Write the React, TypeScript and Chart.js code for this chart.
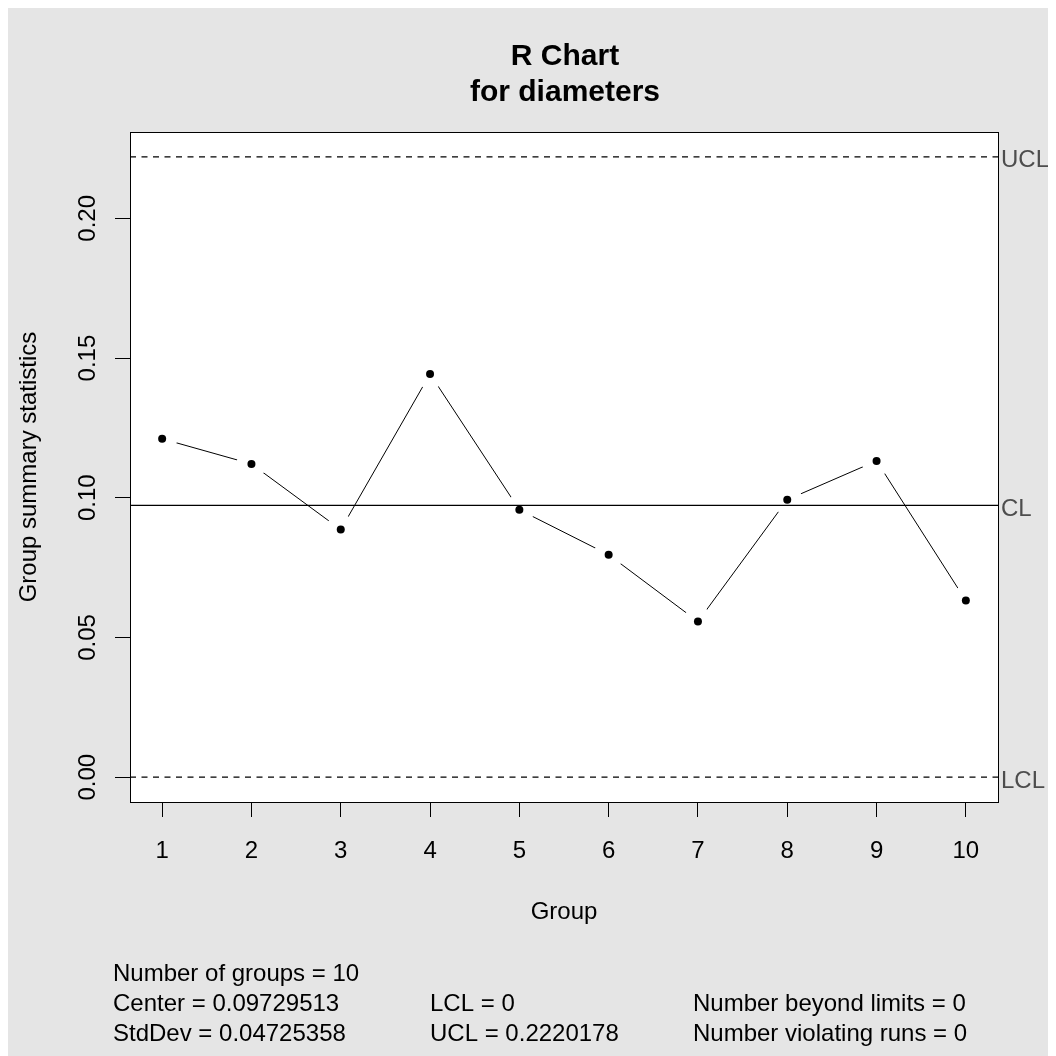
import { useEffect, useRef } from "react";
import { Chart, registerables } from "chart.js";

Chart.register(...registerables);

// ---- data ----
const groups = [1, 2, 3, 4, 5, 6, 7, 8, 9, 10];
const ranges = [0.1211, 0.1121, 0.0886, 0.1443, 0.0957, 0.0796, 0.0557, 0.0993, 0.1132, 0.0632];
const centerValue = 0.09729513;
const lclValue = 0;
const uclValue = 0.2220178;
const stdDevValue = 0.04725358;
const yTickValues = [0, 0.05, 0.1, 0.15, 0.2];
const xTickValues = [1, 2, 3, 4, 5, 6, 7, 8, 9, 10];
const titleLines = ["R Chart", "for diameters"];
const limitLabels = ["UCL", "CL", "LCL"];
const xAxisTitle = "Group";
const yAxisTitle = "Group summary statistics";
const beyondLimits = 0;
const violatingRuns = 0;

const FONT = '"Liberation Sans", Arial, Helvetica, sans-serif';

export default function App() {
  const ref = useRef<HTMLCanvasElement | null>(null);

  useEffect(() => {
    document.documentElement.style.overflow = "hidden";
    const canvas = ref.current;
    if (!canvas) return;

    const xSpan = groups[groups.length - 1] - groups[0];
    const xMin = groups[0] - 0.04 * xSpan;
    const xMax = groups[groups.length - 1] + 0.04 * xSpan;
    const yLo = Math.min(lclValue, ...ranges);
    const yHi = Math.max(uclValue, ...ranges);
    const yMin = yLo - 0.04 * (yHi - yLo);
    const yMax = yHi + 0.04 * (yHi - yLo);

    const points = groups.map((g, i) => ({ x: g, y: ranges[i] }));
    const hline = (v: number) => [
      { x: xMin, y: v },
      { x: xMax, y: v },
    ];

    const decor = {
      id: "decor",
      beforeDraw(chart: any) {
        const { ctx, chartArea: a } = chart;
        ctx.save();
        ctx.fillStyle = "#e5e5e5";
        ctx.fillRect(0, 0, chart.width, chart.height);
        ctx.fillStyle = "#ffffff";
        ctx.fillRect(a.left, a.top, a.right - a.left, a.bottom - a.top);
        ctx.restore();
      },
      afterDraw(chart: any) {
        const { ctx, chartArea: a } = chart;
        const ys = chart.scales.y;
        ctx.save();
        // box
        ctx.strokeStyle = "#000";
        ctx.lineWidth = 1;
        ctx.strokeRect(a.left + 0.5, a.top + 0.5, a.right - a.left, a.bottom - a.top);
        // title
        const cx = (a.left + a.right) / 2;
        ctx.fillStyle = "#000";
        ctx.textAlign = "center";
        ctx.textBaseline = "alphabetic";
        ctx.font = `bold 30px ${FONT}`;
        ctx.fillText(titleLines[0], cx + 1, 57);
        ctx.fillText(titleLines[1], cx + 1, 93);
        // axis titles
        ctx.font = `24px ${FONT}`;
        ctx.fillText(xAxisTitle, cx, 911);
        ctx.save();
        ctx.translate(28, (a.top + a.bottom) / 2);
        ctx.rotate(-Math.PI / 2);
        ctx.fillText(yAxisTitle, 0, 0);
        ctx.restore();
        // limit labels
        ctx.fillStyle = "#4d4d4d";
        ctx.textAlign = "left";
        ctx.textBaseline = "alphabetic";
        const limVals = [uclValue, centerValue, lclValue];
        limitLabels.forEach((l, i) => {
          ctx.fillText(l, a.right + 3, ys.getPixelForValue(limVals[i]) + 10.5);
        });
        // stats
        ctx.fillStyle = "#000";
        ctx.fillText(`Number of groups = ${groups.length}`, 105, 973);
        ctx.fillText(`Center = ${centerValue}`, 105, 1003);
        ctx.fillText(`StdDev = ${stdDevValue}`, 105, 1033);
        ctx.fillText(`LCL = ${lclValue}`, 422, 1003);
        ctx.fillText(`UCL = ${uclValue}`, 422, 1033);
        ctx.fillText(`Number beyond limits = ${beyondLimits}`, 685, 1003);
        ctx.fillText(`Number violating runs = ${violatingRuns}`, 685, 1033);
        ctx.restore();
      },
    };

    const chart = new Chart(canvas, {
      type: "line",
      data: {
        datasets: [
          {
            // black dots on top
            data: points,
            showLine: false,
            pointRadius: 4,
            pointBackgroundColor: "#000",
            pointBorderWidth: 0,
            order: 1,
          } as any,
          {
            data: hline(centerValue),
            borderColor: "#000",
            borderWidth: 1.2,
            pointRadius: 0,
            order: 2,
          },
          {
            data: hline(uclValue),
            borderColor: "#000",
            borderWidth: 1.2,
            borderDash: [6, 5.5],
            pointRadius: 0,
            order: 2,
          },
          {
            data: hline(lclValue),
            borderColor: "#000",
            borderWidth: 1.2,
            borderDash: [6, 5.5],
            pointRadius: 0,
            order: 2,
          },
          {
            // connecting line, with gaps around points (white masks)
            data: points,
            borderColor: "#000",
            borderWidth: 1,
            pointRadius: 15,
            pointBackgroundColor: "#ffffff",
            pointBorderWidth: 0,
            order: 3,
          },
        ],
      },
      options: {
        responsive: false,
        animation: false,
        events: [],
        layout: { padding: { left: 0, top: 124, right: 58, bottom: 154 } },
        plugins: { legend: { display: false }, tooltip: { enabled: false }, title: { display: false } },
        scales: {
          x: {
            type: "linear",
            position: "bottom",
            min: xMin,
            max: xMax,
            afterBuildTicks: (s: any) => {
              s.ticks = xTickValues.map((v) => ({ value: v }));
            },
            afterFit: (s: any) => {
              s.height = 100;
            },
            border: { display: false },
            grid: {
              drawOnChartArea: false,
              drawTicks: true,
              tickLength: 15,
              tickColor: "#000",
              tickWidth: 1,
            },
            ticks: {
              color: "#000",
              font: { family: FONT, size: 24 },
              padding: 20,
              maxRotation: 0,
              autoSkip: false,
              callback: (v: any) => String(v),
            },
          },
          y: {
            type: "linear",
            position: "left",
            min: yMin,
            max: yMax,
            afterBuildTicks: (s: any) => {
              s.ticks = yTickValues.map((v) => ({ value: v }));
            },
            afterFit: (s: any) => {
              s.width = 122;
            },
            border: { display: false },
            grid: {
              drawOnChartArea: false,
              drawTicks: true,
              tickLength: 15,
              tickColor: "#000",
              tickWidth: 1,
            },
            ticks: {
              color: "#000",
              font: { family: FONT, size: 24 },
              padding: 3,
              minRotation: 90,
              maxRotation: 90,
              crossAlign: "center",
              autoSkip: false,
              callback: (v: any) => Number(v).toFixed(2),
            },
          },
        },
      },
      plugins: [decor],
    } as any);

    return () => chart.destroy();
  }, []);

  return <canvas ref={ref} width={1048} height={1048} style={{ display: "block" }} />;
}
